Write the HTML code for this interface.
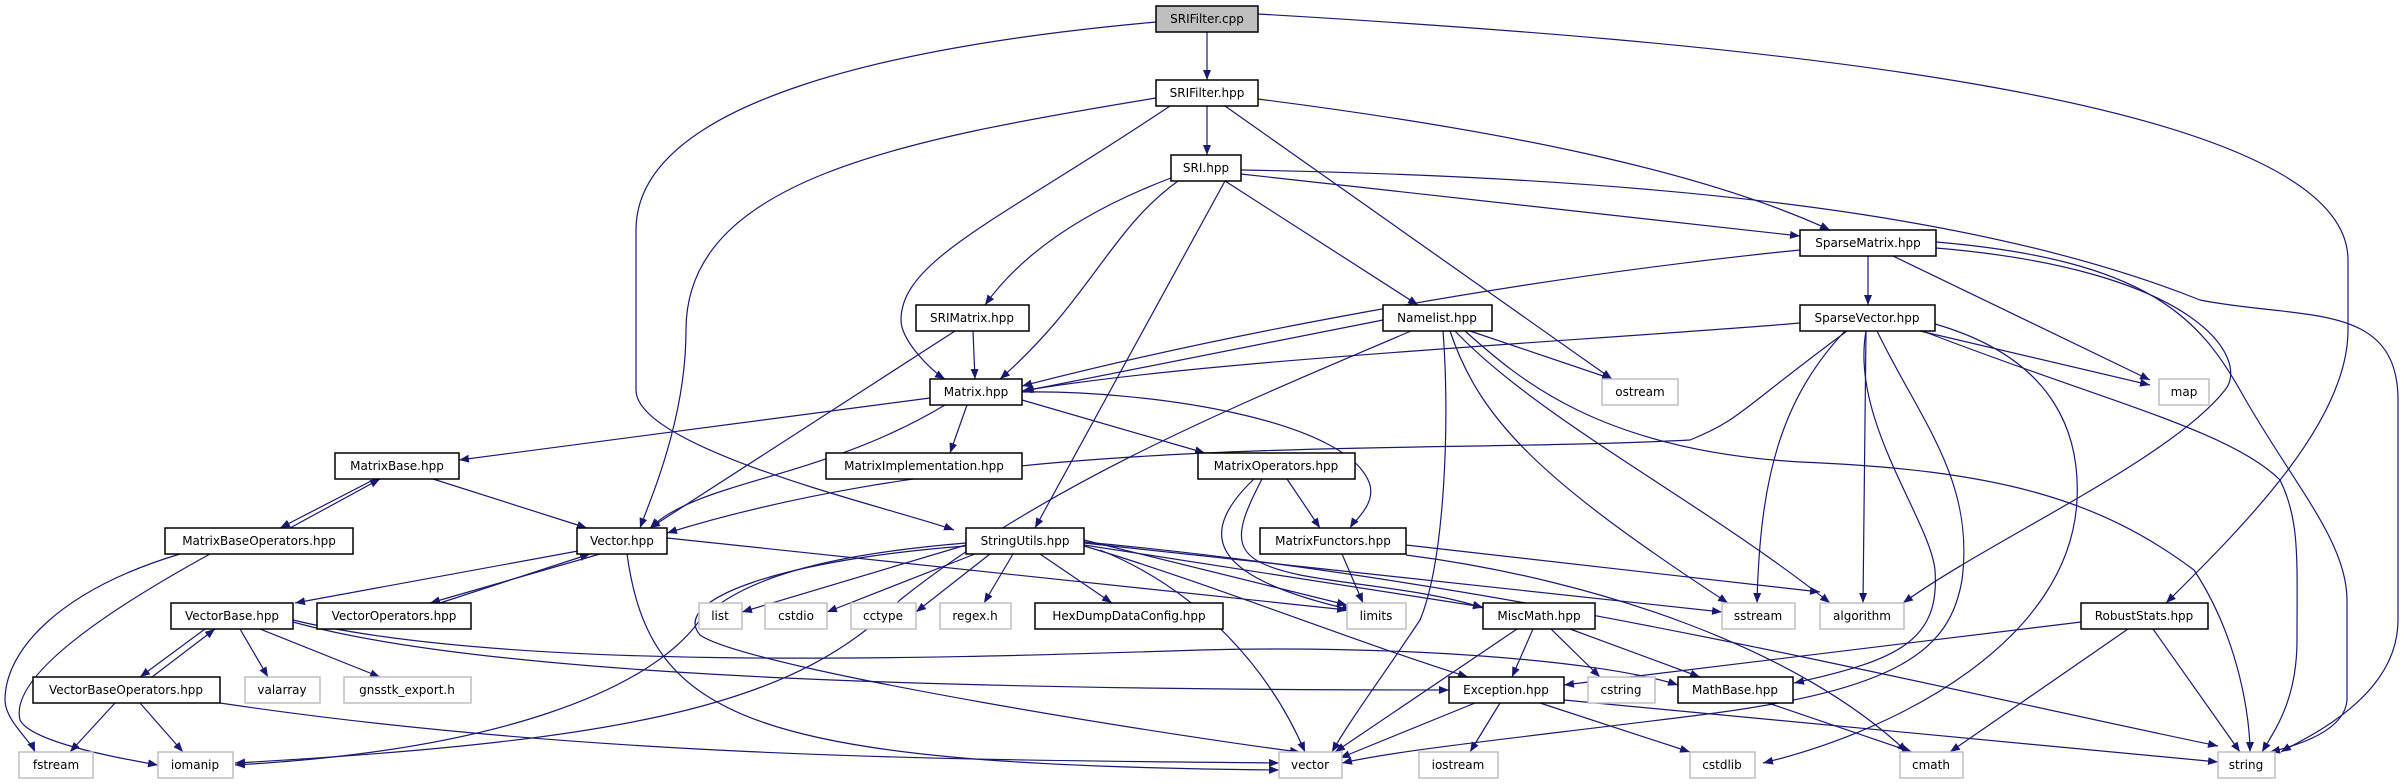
<!DOCTYPE html>
<html><head><meta charset="utf-8"><style>
html,body{margin:0;padding:0;background:#fff}
svg{display:block}
text{font-family:"DejaVu Sans","Liberation Sans",sans-serif;font-size:12px;text-anchor:middle;fill:#000}
.e{fill:none;stroke:#191970;stroke-width:1.2}
.n{fill:#fff;stroke:#000;stroke-width:1.5}
.s{fill:#fff;stroke:#bfbfbf;stroke-width:1.5}
</style></head><body>
<svg width="2404" height="784" viewBox="0 0 2404 784" xmlns="http://www.w3.org/2000/svg">
<defs><marker id="a" markerUnits="userSpaceOnUse" markerWidth="11" markerHeight="8" refX="10" refY="4" orient="auto"><path d="M0,0 L10,4 L0,8 z" fill="#191970"/></marker></defs>
<g class="e" marker-end="url(#a)">
<path d="M1207,32 L1207,80"/>
<path d="M1156,22 C900,45 636,100 636,230 L636,390 C636,450 900,510 954,530"/>
<path d="M1258,14 C1700,40 2348,90 2348,260 L2348,330 C2348,420 2250,520 2166,603"/>
<path d="M1207,106 L1207,155"/>
<path d="M1156,98 C900,140 686,180 686,330 C686,420 650,500 640,528"/>
<path d="M1170,106 C1000,220 901,260 901,320 C901,340 930,370 945,379"/>
<path d="M1225,106 L1612,379"/>
<path d="M1258,99 C1500,130 1700,170 1830,230"/>
<path d="M1171,178 C1060,220 1010,270 985,305"/>
<path d="M1178,181 C1110,230 1090,300 1000,379"/>
<path d="M1225,181 L1035,528"/>
<path d="M1225,181 L1418,305"/>
<path d="M1241,174 L1800,236"/>
<path d="M1241,170 C1700,178 2000,220 2200,300 C2300,320 2398,300 2398,400 L2398,620 C2398,700 2300,740 2281,752"/>
<path d="M973,331 L975,379"/>
<path d="M955,331 L650,528"/>
<path d="M1800,250 C1500,280 1200,340 1022,386"/>
<path d="M1868,256 L1868,305"/>
<path d="M1893,256 L2150,380"/>
<path d="M1936,248 C2200,270 2250,360 2225,390 C2170,460 1990,540 1903,603"/>
<path d="M1936,242 C2150,260 2200,320 2240,390 C2290,480 2347,540 2347,600 L2347,700 C2345,730 2300,745 2270,752"/>
<path d="M1383,320 L1024,391"/>
<path d="M1470,331 L1612,379"/>
<path d="M1411,331 C1250,400 1050,480 900,600 C800,700 650,740 235,763"/>
<path d="M1443,331 C1450,420 1445,560 1420,620 C1380,680 1350,720 1332,752"/>
<path d="M1450,331 C1480,420 1540,480 1728,603"/>
<path d="M1455,331 C1540,420 1700,500 1830,603"/>
<path d="M1465,331 C1520,380 1600,450 1800,462 C2000,470 2100,500 2194,570 C2240,640 2250,720 2250,752"/>
<path d="M1800,323 C1600,340 1200,360 1022,391"/>
<path d="M1847,331 C1740,410 1740,420 1690,440 C1400,455 1000,430 667,533"/>
<path d="M1845,331 C1780,400 1760,480 1757,603"/>
<path d="M1866,331 L1863,603"/>
<path d="M1920,331 L2150,385"/>
<path d="M1920,330 C2100,400 2230,430 2280,480 C2300,520 2297,560 2297,640 C2297,700 2275,730 2262,752"/>
<path d="M1866,331 C1850,420 1930,520 1935,570 C1940,640 1900,660 1794,683"/>
<path d="M1877,331 C1920,420 1975,480 1962,580 C1950,650 1900,690 1700,715 C1500,740 1400,750 1342,763"/>
<path d="M1935,324 C2060,360 2080,440 2077,500 C2070,640 1900,730 1763,763"/>
<path d="M930,398 L459,460"/>
<path d="M967,405 L950,453"/>
<path d="M945,405 C820,480 700,480 650,528"/>
<path d="M1022,400 L1205,453"/>
<path d="M1022,392 C1150,390 1350,420 1370,485 C1375,505 1355,520 1350,528"/>
<path d="M433,479 L587,528"/>
<path d="M375,479 L280,528"/>
<path d="M290,528 L380,479"/>
<path d="M180,554 C60,590 5,650 5,700 C5,720 30,740 35,752"/>
<path d="M210,554 C90,620 10,680 20,720 C30,740 100,755 158,765"/>
<path d="M1287,479 L1320,528"/>
<path d="M1254,479 C1190,540 1220,580 1352,610"/>
<path d="M1262,479 C1230,540 1230,560 1300,575 C1350,585 1430,590 1483,608"/>
<path d="M1342,554 L1363,603"/>
<path d="M1406,545 L1820,592"/>
<path d="M1406,555 C1600,580 1800,650 1907,752"/>
<path d="M578,551 L295,603"/>
<path d="M600,554 L430,603"/>
<path d="M667,538 L1347,610"/>
<path d="M627,554 C650,720 750,765 1279,770"/>
<path d="M440,603 L590,554"/>
<path d="M966,545 L742,612"/>
<path d="M975,554 L827,612"/>
<path d="M990,554 L916,612"/>
<path d="M1013,554 L984,603"/>
<path d="M1040,554 L1112,603"/>
<path d="M966,543 C820,555 740,580 700,620 C650,690 500,750 235,765"/>
<path d="M1084,540 L1347,605"/>
<path d="M1084,543 L1722,612"/>
<path d="M1084,546 C1200,580 1350,640 1468,677"/>
<path d="M1084,545 L1483,607"/>
<path d="M1084,542 C1500,580 1900,680 2218,746"/>
<path d="M1100,550 C1200,590 1270,670 1305,752"/>
<path d="M966,546 C780,560 670,600 700,635 C750,670 1200,740 1300,752"/>
<path d="M205,629 L140,677"/>
<path d="M240,629 L268,677"/>
<path d="M260,629 L380,677"/>
<path d="M293,622 C500,680 1000,690 1449,690"/>
<path d="M293,620 C500,670 900,660 1200,650 C1400,645 1600,660 1678,685"/>
<path d="M152,677 L215,629"/>
<path d="M115,703 L70,752"/>
<path d="M140,703 L183,752"/>
<path d="M220,703 C600,760 1000,760 1279,763"/>
<path d="M1517,629 L1335,752"/>
<path d="M1533,629 L1512,677"/>
<path d="M1551,629 L1600,677"/>
<path d="M1570,629 L1700,677"/>
<path d="M1475,703 L1340,758"/>
<path d="M1500,703 L1470,752"/>
<path d="M1540,703 L1690,752"/>
<path d="M1564,700 L2218,762"/>
<path d="M1768,703 L1912,752"/>
<path d="M2081,622 L1564,685"/>
<path d="M2128,629 L1950,752"/>
<path d="M2153,629 L2240,752"/>
</g>
<g>
<rect x="1156" y="6" width="102" height="26" fill="#bfbfbf" stroke="#000" stroke-width="1.5"/><text x="1207" y="23">SRIFilter.cpp</text>
<rect class="n" x="1156" y="80" width="102" height="26"/><text x="1207" y="97">SRIFilter.hpp</text>
<rect class="n" x="1171" y="155" width="70" height="26"/><text x="1206" y="172">SRI.hpp</text>
<rect class="n" x="1800" y="230" width="136" height="26"/><text x="1868" y="247">SparseMatrix.hpp</text>
<rect class="n" x="916" y="305" width="113" height="26"/><text x="972" y="322">SRIMatrix.hpp</text>
<rect class="n" x="1383" y="305" width="109" height="26"/><text x="1437" y="322">Namelist.hpp</text>
<rect class="n" x="1800" y="305" width="135" height="26"/><text x="1867" y="322">SparseVector.hpp</text>
<rect class="n" x="930" y="379" width="92" height="26"/><text x="976" y="396">Matrix.hpp</text>
<rect class="s" x="1602" y="379" width="76" height="26"/><text x="1640" y="396">ostream</text>
<rect class="s" x="2159" y="379" width="50" height="26"/><text x="2184" y="396">map</text>
<rect class="n" x="335" y="453" width="124" height="26"/><text x="397" y="470">MatrixBase.hpp</text>
<rect class="n" x="826" y="453" width="196" height="26"/><text x="924" y="470">MatrixImplementation.hpp</text>
<rect class="n" x="1198" y="453" width="157" height="26"/><text x="1276" y="470">MatrixOperators.hpp</text>
<rect class="n" x="165" y="528" width="188" height="26"/><text x="259" y="545">MatrixBaseOperators.hpp</text>
<rect class="n" x="577" y="528" width="90" height="26"/><text x="622" y="545">Vector.hpp</text>
<rect class="n" x="966" y="528" width="118" height="26"/><text x="1025" y="545">StringUtils.hpp</text>
<rect class="n" x="1260" y="528" width="146" height="26"/><text x="1333" y="545">MatrixFunctors.hpp</text>
<rect class="n" x="171" y="603" width="122" height="26"/><text x="232" y="620">VectorBase.hpp</text>
<rect class="n" x="317" y="603" width="154" height="26"/><text x="394" y="620">VectorOperators.hpp</text>
<rect class="s" x="699" y="603" width="43" height="26"/><text x="720" y="620">list</text>
<rect class="s" x="765" y="603" width="62" height="26"/><text x="796" y="620">cstdio</text>
<rect class="s" x="851" y="603" width="65" height="26"/><text x="883" y="620">cctype</text>
<rect class="s" x="940" y="603" width="71" height="26"/><text x="975" y="620">regex.h</text>
<rect class="n" x="1035" y="603" width="188" height="26"/><text x="1129" y="620">HexDumpDataConfig.hpp</text>
<rect class="s" x="1347" y="603" width="59" height="26"/><text x="1376" y="620">limits</text>
<rect class="n" x="1483" y="603" width="112" height="26"/><text x="1539" y="620">MiscMath.hpp</text>
<rect class="s" x="1722" y="603" width="73" height="26"/><text x="1758" y="620">sstream</text>
<rect class="s" x="1820" y="603" width="84" height="26"/><text x="1862" y="620">algorithm</text>
<rect class="n" x="2081" y="603" width="127" height="26"/><text x="2144" y="620">RobustStats.hpp</text>
<rect class="n" x="33" y="677" width="187" height="26"/><text x="126" y="694">VectorBaseOperators.hpp</text>
<rect class="s" x="245" y="677" width="75" height="26"/><text x="282" y="694">valarray</text>
<rect class="s" x="344" y="677" width="127" height="26"/><text x="407" y="694">gnsstk_export.h</text>
<rect class="n" x="1449" y="677" width="115" height="26"/><text x="1506" y="694">Exception.hpp</text>
<rect class="s" x="1588" y="677" width="67" height="26"/><text x="1621" y="694">cstring</text>
<rect class="n" x="1678" y="677" width="115" height="26"/><text x="1735" y="694">MathBase.hpp</text>
<rect class="s" x="19" y="752" width="74" height="26"/><text x="56" y="769">fstream</text>
<rect class="s" x="158" y="752" width="75" height="26"/><text x="195" y="769">iomanip</text>
<rect class="s" x="1279" y="752" width="63" height="26"/><text x="1310" y="769">vector</text>
<rect class="s" x="1419" y="752" width="79" height="26"/><text x="1458" y="769">iostream</text>
<rect class="s" x="1690" y="752" width="65" height="26"/><text x="1722" y="769">cstdlib</text>
<rect class="s" x="1900" y="752" width="63" height="26"/><text x="1931" y="769">cmath</text>
<rect class="s" x="2218" y="752" width="57" height="26"/><text x="2246" y="769">string</text>
</g>
</svg>
</body></html>
